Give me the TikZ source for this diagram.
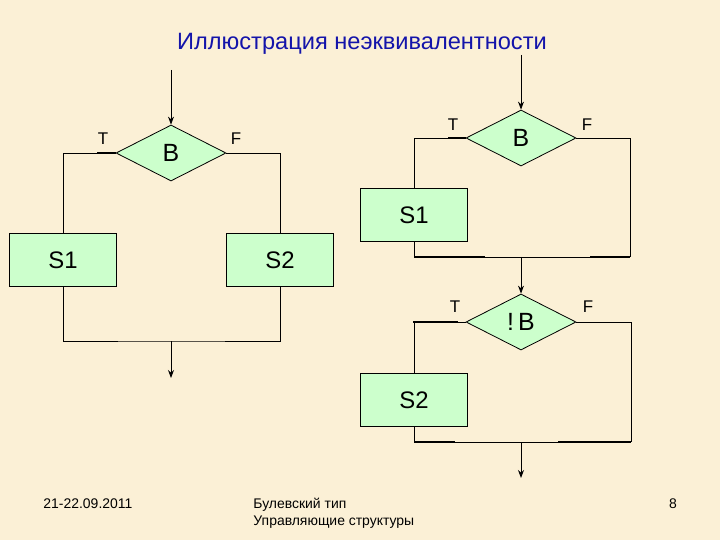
\documentclass[tikz,border=0pt]{standalone}
\usepackage{fontspec}
\usepackage{graphicx}
\setmainfont{Liberation Sans}
\usetikzlibrary{shapes.geometric,arrows.meta}
\definecolor{bgc}{RGB}{251,240,214}
\definecolor{boxc}{RGB}{204,255,204}
\definecolor{titlec}{RGB}{20,20,170}
\begin{document}
\begin{tikzpicture}[x=1bp,y=-1bp,
  line width=0.9bp,
  dec/.style={diamond,draw=black,fill=boxc,line width=0.8bp,inner sep=0pt,minimum width=110bp,minimum height=56bp,font=\fontsize{25}{28}\selectfont},
  stmt/.style={rectangle,draw=black,fill=boxc,line width=0.8bp,inner sep=0pt,minimum width=107bp,minimum height=53bp,font=\fontsize{24}{27}\selectfont},
  lbl/.style={inner sep=0pt,font=\fontsize{17}{19}\selectfont},
  arr/.style={-{Stealth[length=8bp,width=6bp]}},
  thick seg/.style={line width=2.2bp},
  foot/.style={inner sep=0pt,font=\fontsize{14}{18}\selectfont}]
\fill[bgc] (0,0) rectangle (720,540);
\useasboundingbox (0,0) rectangle (720,540);

% title
\node[inner sep=0pt,text=titlec,font=\fontsize{23.7}{27}\selectfont] (title) at (362,44) {Иллюстрация неэквивалентности};

% ---------- left diagram ----------
\coordinate (i1) at (171,70);
\node[dec] (B1) at (171,153) {B};
\node[stmt] (S1) at (63,260) {S1};
\node[stmt] (S2) at (280,260) {S2};
\coordinate (j1) at (171,341);
\coordinate (o1) at (171,378);
\node[lbl] (T1) at (103,139) {T};
\node[lbl] (F1) at (236,139) {F};
\draw[arr] (i1) -- (B1.north);
\draw (B1.west) -| (S1.north);
\draw (B1.east) -| (S2.north);
\draw (S1.south) |- (j1) -| (S2.south);
\draw[arr] (j1) -- (o1);
\coordinate (t1a) at (97,153);
\draw[thick seg] (t1a) -- (B1.west);

% ---------- right diagram, first if ----------
\coordinate (i2) at (521,55);
\node[dec] (B2) at (521,138) {B};
\node[stmt] (S3) at (414,215) {S1};
\node[lbl] (T2) at (453,125) {T};
\node[lbl] (F2) at (587,125) {F};
\coordinate (c2) at (630,257);
\coordinate (j2) at (521,257);
\draw[arr] (i2) -- (B2.north);
\draw (B2.west) -| (S3.north);
\draw (B2.east) -| (c2);
\draw (S3.south) |- (c2);
\coordinate (t2a) at (448,138);
\draw[thick seg] (t2a) -- (B2.west);
\coordinate (u2a) at (485,257);
\coordinate (u2b) at (590,257);
\draw[thick seg] (S3.south |- c2) -- (u2a);
\draw[thick seg] (u2b) -- (c2);

% ---------- right diagram, second if ----------
\node[dec] (B3) at (521,322) {!\,B};
\node[stmt] (S4) at (414,400) {S2};
\node[lbl] (T3) at (455,307) {T};
\node[lbl] (F3) at (588,307) {F};
\coordinate (c3) at (631,442);
\coordinate (j3) at (521,442);
\coordinate (o3) at (521,478);
\draw[arr] (j2) -- (B3.north);
\draw (B3.west) -| (S4.north);
\draw (B3.east) -| (c3);
\draw (S4.south) |- (c3);
\draw[arr] (j3) -- (o3);
\coordinate (t3a) at (413,322);
\coordinate (t3b) at (458,322);
\draw[thick seg] (t3a) -- (t3b);
\coordinate (u3a) at (455,442);
\coordinate (u3b) at (558,442);
\draw[thick seg] (S4.south |- c3) -- (u3a);
\draw[thick seg] (u3b) -- (c3);

% ---------- footer ----------
\node[foot,anchor=west] (date) at (43,504) {21-22.09.2011};
\node[foot,anchor=west] (topic1) at (253,505) {Булевский тип};
\node[foot,anchor=west] (topic2) at (253,522) {Управляющие структуры};
\node[foot] (page) at (673,504) {8};
\end{tikzpicture}
\end{document}
